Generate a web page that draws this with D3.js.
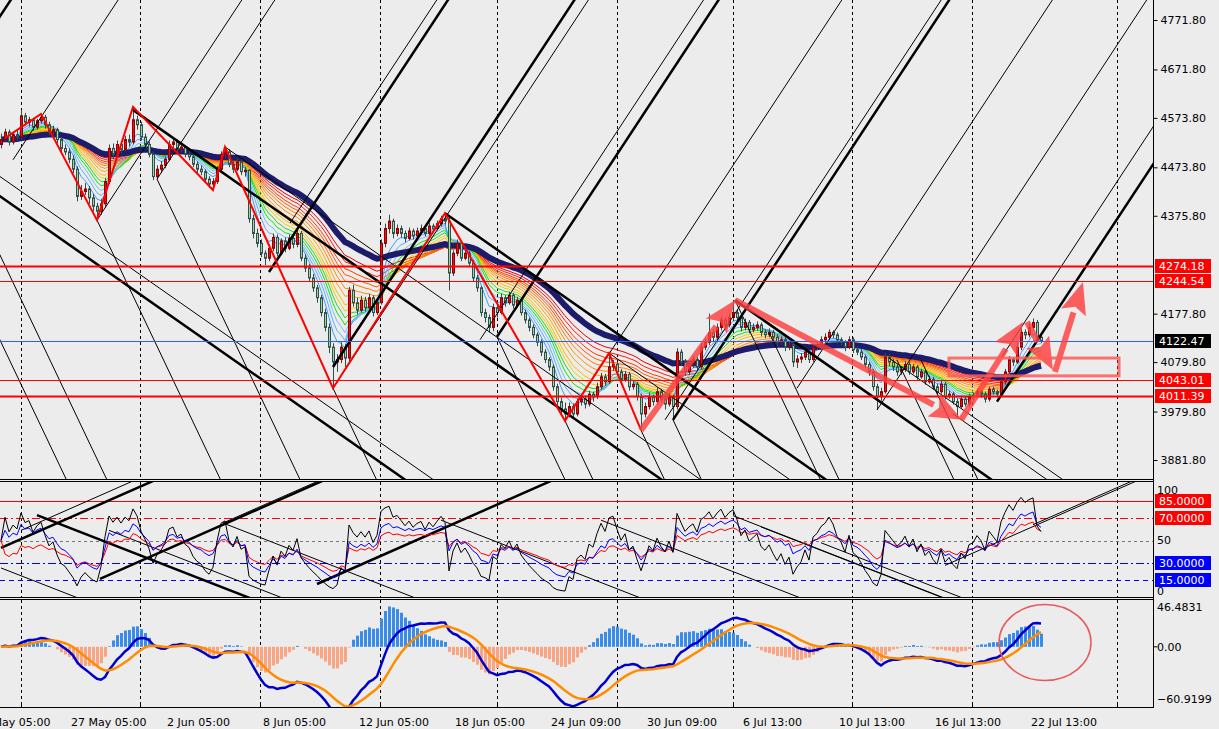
<!DOCTYPE html>
<html>
<head>
<meta charset="utf-8">
<script src="https://cdnjs.cloudflare.com/ajax/libs/d3/7.8.5/d3.min.js"></script>
<style>
  body { margin: 0; background: #ececec; }
  svg { display: block; }
  text { font-family: "DejaVu Sans", sans-serif; font-size: 11px; }
</style>
</head>
<body>
<div id="chart"></div>
<script>
// H4 candles: [open, high, low, close]
const candles = [
  [4520,4542,4512,4530],[4530,4552,4526,4545],[4545,4550,4518,4525],[4525,4546,4520,4540],[4540,4548,4528,4535],
  [4535,4590,4530,4578],[4578,4584,4558,4565],[4565,4576,4556,4570],[4570,4574,4548,4555],[4555,4572,4550,4568],
  [4568,4582,4562,4575],[4575,4580,4552,4560],[4560,4566,4538,4545],[4545,4558,4540,4550],[4550,4554,4522,4530],
  [4530,4536,4505,4512],[4512,4520,4498,4505],[4505,4512,4482,4490],[4490,4498,4462,4470],[4470,4476,4405,4415],
  [4415,4438,4408,4425],[4425,4442,4418,4430],[4430,4436,4400,4412],[4412,4420,4385,4395],[4395,4402,4367,4385],
  [4385,4410,4378,4400],[4400,4452,4392,4445],[4445,4520,4440,4512],[4512,4522,4490,4500],[4500,4528,4495,4520],
  [4520,4526,4502,4510],[4510,4538,4506,4530],[4530,4540,4516,4525],[4525,4596,4520,4570],[4570,4578,4550,4560],
  [4560,4566,4528,4535],[4535,4542,4512,4520],[4520,4526,4494,4500],[4500,4506,4448,4455],[4455,4478,4450,4470],
  [4470,4486,4462,4478],[4478,4496,4472,4490],[4490,4528,4486,4520],[4520,4532,4510,4525],[4525,4530,4502,4510],
  [4510,4522,4504,4515],[4515,4518,4494,4500],[4500,4508,4488,4495],[4495,4500,4474,4480],[4480,4486,4462,4470],
  [4470,4478,4458,4465],[4465,4470,4444,4450],[4450,4456,4432,4440],[4440,4452,4428,4445],[4445,4476,4440,4470],
  [4470,4506,4466,4500],[4500,4515,4492,4505],[4505,4510,4474,4480],[4480,4488,4462,4470],[4470,4492,4466,4485],
  [4485,4490,4458,4465],[4465,4474,4455,4468],[4468,4470,4362,4370],[4370,4378,4330,4340],[4340,4350,4312,4320],
  [4320,4328,4292,4300],[4300,4306,4276,4290],[4290,4318,4284,4310],[4310,4340,4304,4332],[4332,4338,4294,4300],
  [4300,4330,4296,4325],[4325,4332,4302,4310],[4310,4338,4306,4330],[4330,4336,4310,4318],[4318,4348,4312,4340],
  [4340,4345,4284,4290],[4290,4298,4262,4270],[4270,4278,4242,4250],[4250,4258,4222,4230],[4230,4236,4200,4210],
  [4210,4216,4172,4180],[4180,4188,4142,4150],[4150,4158,4098,4110],[4110,4118,4027,4080],[4080,4096,4060,4085],
  [4085,4120,4078,4110],[4110,4116,4070,4088],[4088,4232,4082,4225],[4225,4236,4192,4200],[4200,4210,4176,4185],
  [4185,4214,4180,4205],[4205,4212,4182,4190],[4190,4218,4186,4210],[4210,4215,4172,4180],[4180,4206,4175,4200],
  [4200,4328,4196,4320],[4320,4360,4312,4350],[4350,4378,4340,4365],[4365,4370,4330,4340],[4340,4358,4334,4350],
  [4350,4356,4332,4340],[4340,4346,4322,4330],[4330,4352,4326,4345],[4345,4350,4328,4335],[4335,4352,4330,4345],
  [4345,4358,4340,4350],[4350,4354,4334,4340],[4340,4362,4336,4355],[4355,4360,4342,4350],[4350,4366,4346,4360],
  [4360,4376,4354,4370],[4370,4381,4358,4365],[4365,4372,4225,4260],[4260,4306,4254,4300],[4300,4328,4294,4320],
  [4320,4325,4284,4290],[4290,4308,4286,4300],[4300,4305,4274,4280],[4280,4286,4244,4250],[4250,4256,4222,4230],
  [4230,4234,4172,4180],[4180,4188,4160,4170],[4170,4176,4140,4150],[4150,4198,4142,4190],[4190,4196,4170,4180],
  [4180,4218,4176,4210],[4210,4215,4192,4200],[4200,4222,4196,4215],[4215,4220,4188,4195],[4195,4212,4190,4205],
  [4205,4210,4174,4180],[4180,4186,4158,4165],[4165,4170,4142,4150],[4150,4156,4128,4135],[4135,4140,4112,4120],
  [4120,4126,4092,4100],[4100,4106,4078,4085],[4085,4090,4062,4070],[4070,4075,4022,4030],[4030,4036,3992,4000],
  [4000,4008,3976,3985],[3985,3998,3961,3975],[3975,3998,3968,3990],[3990,3996,3966,3975],[3975,4006,3970,4000],
  [4000,4012,3992,4005],[4005,4010,3986,3995],[3995,4022,3990,4015],[4015,4020,4000,4010],[4010,4038,4005,4030],
  [4030,4058,4024,4050],[4050,4056,4032,4040],[4040,4098,4036,4070],[4070,4084,4062,4075],[4075,4080,4052,4060],
  [4060,4066,4038,4045],[4045,4062,4040,4055],[4055,4060,4022,4030],[4030,4042,4024,4035],[4035,4040,4002,4010],
  [4010,4016,3942,3975],[3975,3998,3968,3990],[3990,4018,3984,4010],[4010,4014,3992,4000],[4000,4028,3994,4020],
  [4020,4025,3998,4005],[4005,4012,3984,3995],[3995,4018,3990,4010],[4010,4014,3963,3990],[3990,4108,3984,4100],
  [4100,4106,4072,4080],[4080,4086,4052,4060],[4060,4082,4054,4075],[4075,4092,4068,4085],[4085,4090,4062,4070],
  [4070,4118,4064,4110],[4110,4128,4104,4120],[4120,4178,4114,4140],[4140,4146,4122,4130],[4130,4158,4124,4150],
  [4150,4172,4144,4165],[4165,4170,4146,4155],[4155,4178,4150,4170],[4170,4205,4164,4180],[4180,4186,4162,4170],
  [4170,4176,4142,4150],[4150,4168,4144,4160],[4160,4165,4138,4145],[4145,4158,4140,4150],[4150,4162,4144,4155],
  [4155,4160,4132,4140],[4140,4146,4128,4135],[4135,4148,4130,4140],[4140,4145,4122,4130],[4130,4136,4112,4120],
  [4120,4132,4115,4125],[4125,4130,4102,4110],[4110,4122,4104,4115],[4115,4120,4070,4080],[4080,4094,4068,4086],
  [4086,4098,4078,4090],[4090,4108,4084,4100],[4100,4104,4078,4085],[4085,4116,4080,4110],[4110,4122,4104,4115],
  [4115,4132,4110,4125],[4125,4138,4118,4130],[4130,4146,4124,4140],[4140,4144,4128,4135],[4135,4140,4118,4125],
  [4125,4130,4112,4120],[4120,4124,4102,4110],[4110,4132,4106,4125],[4125,4130,4098,4105],[4105,4112,4094,4100],
  [4100,4106,4084,4090],[4090,4095,4068,4075],[4075,4080,4052,4060],[4060,4066,4022,4030],[4030,4036,3983,4010],
  [4010,4028,4002,4020],[4020,4098,4016,4090],[4090,4096,4072,4080],[4080,4086,4062,4070],[4070,4076,4052,4060],
  [4060,4072,4054,4065],[4065,4082,4060,4075],[4075,4080,4054,4060],[4060,4076,4056,4070],[4070,4074,4044,4050],
  [4050,4066,4046,4060],[4060,4064,4034,4040],[4040,4052,4036,4045],[4045,4050,4024,4030],[4030,4036,4014,4020],
  [4020,4042,4016,4035],[4035,4040,4004,4010],[4010,4022,4006,4015],[4015,4020,3994,4000],[4000,4006,3967,3990],
  [3990,4012,3986,4005],[4005,4010,3990,3995],[3995,4016,3990,4010],[4010,4018,4002,4012],[4012,4026,4006,4020],
  [4020,4024,4008,4015],[4015,4020,3998,4005],[4005,4030,4000,4025],[4025,4030,4014,4020],[4020,4024,4008,4015],
  [4015,4046,4010,4040],[4040,4066,4034,4060],[4060,4092,4054,4085],[4085,4090,4072,4080],[4080,4118,4076,4110],
  [4110,4148,4104,4140],[4140,4146,4126,4135],[4135,4158,4130,4150],[4150,4168,4144,4160],[4160,4165,4124,4130],
  [4130,4138,4118,4122.47]
];

const timeLabels = ["21 May 05:00","27 May 05:00","2 Jun 05:00","8 Jun 05:00","12 Jun 05:00","18 Jun 05:00",
  "24 Jun 09:00","30 Jun 09:00","6 Jul 13:00","10 Jul 13:00","16 Jul 13:00","22 Jul 13:00"];
const timeLabelBars = [-6.5,17.5,41.5,65.5,89.5,113.5,137.5,161.5,185.5,209.5,233.5,257.5];
const gridBars = [5,34.75,64.75,94.75,124,154,183,212.75,242.75,279];

const priceTicks = [4771.80,4671.80,4573.80,4473.80,4375.80,4177.80,4079.80,3979.80,3881.80];
const levels = [4274.18,4244.54,4043.01,4011.39];
const bid = 4122.47;

const oscLevels = [85,70,50,30,15];
const macdTicks = [46.4831,0,-60.9199];

// zigzag pivots [bar, price]
const zigzag = [[1,4533],[10,4582],[24,4367],[33,4596],[53,4428],[56,4515],[83,4027],[111,4381],[141,3961],[152,4098],[160,3942]];
// hand drawn arrows [bar0, price0, bar1, price1]
const arrows = [[160,3942,183.5,4205],[183.5,4205,240.25,3963],[240,3963,255.5,4161],[256.5,4161,263,4064],[263.5,4060,270.5,4242]];
const zoneBox = [237,4088,279.5,4052];

// trend rays, anchors [bar, price]
const upThick = [[-1,4770],[67,4262],[83,4070],[124,4131],[168,3963],[249,4000]];
const upThin = [[3,4489],[24,4367],[39,4450],[72.25,4361],[83,4027],[119.75,4125],[141,3961],[166,3963],[199,4027],[219,3983],[250,4088]];
const steepThin = [[-6,4394],[-4,4188],[24,4367],[39,4450],[83,4027],[124,4131],[141,3961],[160,3942],[168,3963],[183.5,4205],[192,4140],[224,4084],[230,4084]];
const fallThick = [[-5,4442],[33,4590],[111,4381],[183.5,4205]];
const fallThin = [[-5,4482],[56,4515],[152,4098],[222,4088],[238,3975]];

// oscillator window rays, anchors [bar, value]
const oscUpThick = [[0,43.4],[24.75,16],[79,11.5]];
const oscUpThin = [[5,59],[55.5,65.5],[236,28],[258,64]];
const oscDownThick = [[9,72.5]];
const oscDownThin = [[0,25.7],[27,59],[55.5,65.5],[110,68],[150,68],[183,72],[190,62],[205,48]];

const macdCircle = [261,5];

const ribbonPeriods = [5,7,9,11,13,15,17,20,23,26,29,32,36,40];
const ribbonColors = ["#3a9cff","#5aafff","#78bdff","#00ee00","#33cc33","#f0d000","#ffbb00","#ffa500","#ff9000","#ff7a00","#ff5a00","#ff3a00","#ff1a10","#e80000"];

// ---------------------------------------------------------------
const W = 1219, H = 729;
const svg = d3.select("#chart").append("svg").attr("width", W).attr("height", H);
svg.append("rect").attr("width", W).attr("height", H).attr("fill", "#ececec");

const x = d3.scaleLinear().domain([0, 260]).range([1, 1041]);
const yP = d3.scaleLinear().domain([3881.8, 4771.8]).range([460, 20]);
const yO = d3.scaleLinear().domain([0, 100]).range([597, 484]);
const yM = d3.scaleLinear().domain([-60.9199, 46.4831]).range([699, 607]);

const closes = candles.map(d => d[3]);

function ema(vals, n) {
  const k = 2 / (n + 1);
  let e = vals[0];
  return vals.map((v, i) => i === 0 ? e : (e = v * k + e * (1 - k)));
}
function rsi(c, n) {
  let ag = 0, al = 0;
  for (let i = 1; i <= n; i++) { const ch = c[i] - c[i - 1]; if (ch > 0) ag += ch; else al -= ch; }
  ag /= n; al /= n;
  const out = [50];
  for (let i = 1; i < c.length; i++) {
    const ch = c[i] - c[i - 1];
    ag = (ag * (n - 1) + Math.max(ch, 0)) / n;
    al = (al * (n - 1) + Math.max(-ch, 0)) / n;
    out.push(al === 0 ? 100 : 100 - 100 / (1 + ag / al));
  }
  return out;
}

const defs = svg.append("defs");
function clip(id, x0, y0, w, h) {
  defs.append("clipPath").attr("id", id).append("rect").attr("x", x0).attr("y", y0).attr("width", w).attr("height", h);
}
clip("cMain", 0, 0, 1153, 479);
clip("cOsc", 0, 482, 1153, 115);
clip("cMacd", 0, 600, 1153, 107);

const main = svg.append("g").attr("clip-path", "url(#cMain)");
const osc = svg.append("g").attr("clip-path", "url(#cOsc)");
const mac = svg.append("g").attr("clip-path", "url(#cMacd)");

// vertical dashed grid in every window
[[main, 0, 479], [osc, 482, 597], [mac, 600, 707]].forEach(([g, a, b]) => {
  g.selectAll(null).data(gridBars).join("line")
    .attr("x1", d => Math.round(x(d)) + 0.5).attr("x2", d => Math.round(x(d)) + 0.5)
    .attr("y1", a).attr("y2", b)
    .attr("stroke", "#000").attr("stroke-width", 1).attr("stroke-dasharray", "3,3");
});

// ribbon of moving averages
const line = d3.line().x((d, i) => x(i)).y(d => yP(d));
ribbonPeriods.slice().reverse().forEach((p, j) => {
  const idx = ribbonPeriods.length - 1 - j;
  main.append("path").datum(ema(closes, p)).attr("d", line)
    .attr("fill", "none").attr("stroke", ribbonColors[idx]).attr("stroke-width", 1);
});
main.append("path").datum(ema(closes, 50)).attr("d", line)
  .attr("fill", "none").attr("stroke", "#1c1c6a").attr("stroke-width", 6);

// candles
const cg = main.append("g");
cg.selectAll("line").data(candles).join("line")
  .attr("x1", (d, i) => x(i) + 0.5).attr("x2", (d, i) => x(i) + 0.5)
  .attr("y1", d => yP(d[1])).attr("y2", d => yP(d[2]))
  .attr("stroke", "#2f4f4f").attr("stroke-width", 1);
cg.selectAll("rect").data(candles).join("rect")
  .attr("x", (d, i) => x(i) - 0.5).attr("width", 2)
  .attr("y", d => yP(Math.max(d[0], d[3])))
  .attr("height", d => Math.max(1, Math.abs(yP(d[0]) - yP(d[3]))))
  .attr("fill", d => d[3] >= d[0] ? "#e8101a" : "#9fd89f")
  .attr("stroke", d => d[3] >= d[0] ? "#900000" : "#2f4f4f").attr("stroke-width", 1);

// rays
function rays(g, anchors, slope, ys, width) {
  g.selectAll(null).data(anchors).join("line")
    .attr("x1", d => x(d[0])).attr("y1", d => ys(d[1]))
    .attr("x2", d => x(d[0] + 400)).attr("y2", d => ys(d[1] + slope * 400))
    .attr("stroke", "#000").attr("stroke-width", width);
}
rays(main, upThin, 12.3, yP, 1);
rays(main, upThick, 12.3, yP, 2.5);
rays(main, steepThin, -17.0, yP, 1);
rays(main, fallThin, -5.66, yP, 1);
rays(main, fallThick, -5.66, yP, 2.5);

// horizontal levels
main.selectAll(null).data(levels).join("line")
  .attr("x1", 0).attr("x2", 1153)
  .attr("y1", d => Math.round(yP(d)) + 0.5).attr("y2", d => Math.round(yP(d)) + 0.5)
  .attr("stroke", "#ff0000").attr("stroke-width", (d, i) => (i === 0 || i === 3) ? 2 : 1.2);
main.append("line").attr("x1", 0).attr("x2", 1153)
  .attr("y1", Math.round(yP(bid)) + 0.5).attr("y2", Math.round(yP(bid)) + 0.5)
  .attr("stroke", "#2f5fff").attr("stroke-width", 1);

// zigzag
main.append("path").datum(zigzag)
  .attr("d", d3.line().x(d => x(d[0])).y(d => yP(d[1])))
  .attr("fill", "none").attr("stroke", "#ff0000").attr("stroke-width", 2);

// arrows
const ag = main.append("g").attr("opacity", 0.82);
arrows.forEach(a => {
  const x0 = x(a[0]), y0 = yP(a[1]), x1 = x(a[2]), y1 = yP(a[3]);
  const len = Math.hypot(x1 - x0, y1 - y0), ux = (x1 - x0) / len, uy = (y1 - y0) / len;
  const hl = 32, hw = 13;
  const bx = x1 - ux * hl, by = y1 - uy * hl;
  ag.append("line").attr("x1", x0).attr("y1", y0).attr("x2", bx).attr("y2", by)
    .attr("stroke", "#ff4040").attr("stroke-width", 6);
  ag.append("path")
    .attr("d", `M${x1},${y1}L${bx - uy * hw},${by + ux * hw}L${bx + ux * 6},${by + uy * 6}L${bx + uy * hw},${by - ux * hw}Z`)
    .attr("fill", "#ff4040");
});
main.append("rect")
  .attr("x", x(zoneBox[0])).attr("y", yP(zoneBox[1]))
  .attr("width", x(zoneBox[2]) - x(zoneBox[0])).attr("height", yP(zoneBox[3]) - yP(zoneBox[1]))
  .attr("fill", "none").attr("stroke", "#ff5a5a").attr("stroke-width", 3).attr("opacity", 0.85);

// oscillator window
const oscStyles = [["#ff0000", null], ["#ff0000", "8,3,2,3"], ["#777", "3,3"], ["#0000ff", "8,3,2,3"], ["#0000ff", "5,4"]];
osc.selectAll(null).data(oscLevels).join("line")
  .attr("x1", 0).attr("x2", 1153)
  .attr("y1", d => Math.round(yO(d)) + 0.5).attr("y2", d => Math.round(yO(d)) + 0.5)
  .attr("stroke", (d, i) => oscStyles[i][0]).attr("stroke-dasharray", (d, i) => oscStyles[i][1]);
rays(osc, oscUpThin, 1.56, yO, 1);
rays(osc, oscUpThick, 1.56, yO, 2.5);
rays(osc, oscDownThin, -1.38, yO, 1);
rays(osc, oscDownThick, -1.38, yO, 2.5);
const oline = d3.line().x((d, i) => x(i)).y(d => yO(d));
[[rsi(closes, 21), "#ff0000"], [rsi(closes, 13), "#0000ff"], [rsi(closes, 6), "#000000"]].forEach(([v, c]) => {
  osc.append("path").datum(v).attr("d", oline).attr("fill", "none").attr("stroke", c).attr("stroke-width", 1);
});

// MACD window
const e12 = ema(closes, 12), e26 = ema(closes, 26);
const macd = closes.map((c, i) => e12[i] - e26[i]);
const signal = ema(macd, 9);
const hist = macd.map((m, i) => (m - signal[i]) * 1.5);
mac.selectAll("rect").data(hist).join("rect")
  .attr("x", (d, i) => x(i) - 1).attr("width", 3)
  .attr("y", d => Math.min(yM(0), yM(d))).attr("height", d => Math.abs(yM(d) - yM(0)))
  .attr("fill", d => d >= 0 ? "#3a8de6" : "#f7a583");
const mline = d3.line().x((d, i) => x(i)).y(d => yM(d));
mac.append("path").datum(macd).attr("d", mline).attr("fill", "none").attr("stroke", "#0000cc").attr("stroke-width", 2.5);
mac.append("path").datum(signal).attr("d", mline).attr("fill", "none").attr("stroke", "#ff8c00").attr("stroke-width", 2.5);
mac.append("ellipse").attr("cx", x(macdCircle[0])).attr("cy", yM(macdCircle[1]))
  .attr("rx", 46).attr("ry", 38).attr("fill", "none").attr("stroke", "#e85a5a").attr("stroke-width", 1.5);

// frames
const frame = svg.append("g").attr("stroke", "#000").attr("stroke-width", 1);
[479.5, 481.5, 597.5, 599.5, 707.5].forEach(yy => frame.append("line").attr("x1", 0).attr("x2", 1153.5).attr("y1", yy).attr("y2", yy));
frame.append("line").attr("x1", 1153.5).attr("x2", 1153.5).attr("y1", 0).attr("y2", 708);

// price axis
const pax = svg.append("g").attr("transform", "translate(1153.5,0)")
  .call(d3.axisRight(yP).tickValues(priceTicks).tickSize(4).tickFormat(d3.format(".2f")));
pax.select(".domain").remove();
pax.selectAll("text").attr("font-family", "DejaVu Sans").attr("font-size", 11).attr("fill", "#000").attr("x", 7);
pax.selectAll("line").attr("stroke", "#000");

function tag(yv, txt, bg) {
  svg.append("rect").attr("x", 1155).attr("y", Math.round(yv) - 7).attr("width", 56).attr("height", 14).attr("fill", bg);
  svg.append("text").attr("x", 1159).attr("y", yv).attr("dy", "0.36em").attr("fill", "#fff").text(txt);
}
levels.forEach(l => tag(yP(l), d3.format(".2f")(l), "#ff0000"));
tag(yP(bid), d3.format(".2f")(bid), "#000");

// oscillator axis
svg.append("text").attr("x", 1157).attr("y", 490).attr("dy", "0.36em").text("100");
svg.append("text").attr("x", 1157).attr("y", yO(50)).attr("dy", "0.36em").text("50");
svg.append("text").attr("x", 1157).attr("y", 591).attr("dy", "0.36em").text("0");
oscLevels.filter(v => v !== 50).forEach(v => tag(yO(v), d3.format(".4f")(v), v > 50 ? "#ff0000" : "#0000ff"));

// MACD axis
svg.selectAll(null).data(macdTicks).join("text")
  .attr("x", 1157).attr("y", d => yM(d)).attr("dy", "0.36em")
  .text(d => d === 0 ? "0.00" : d3.format(".4f")(d));
svg.append("line").attr("x1", 1153.5).attr("x2", 1157.5).attr("y1", yM(0)).attr("y2", yM(0)).attr("stroke", "#000");

// time axis
svg.selectAll(null).data(gridBars).join("line")
  .attr("x1", d => Math.round(x(d)) + 0.5).attr("x2", d => Math.round(x(d)) + 0.5)
  .attr("y1", 703).attr("y2", 707).attr("stroke", "#000");
svg.selectAll(null).data(timeLabels).join("text")
  .attr("x", (d, i) => x(timeLabelBars[i])).attr("y", 726).attr("fill", "#000").text(d => d);
</script>
</body>
</html>
